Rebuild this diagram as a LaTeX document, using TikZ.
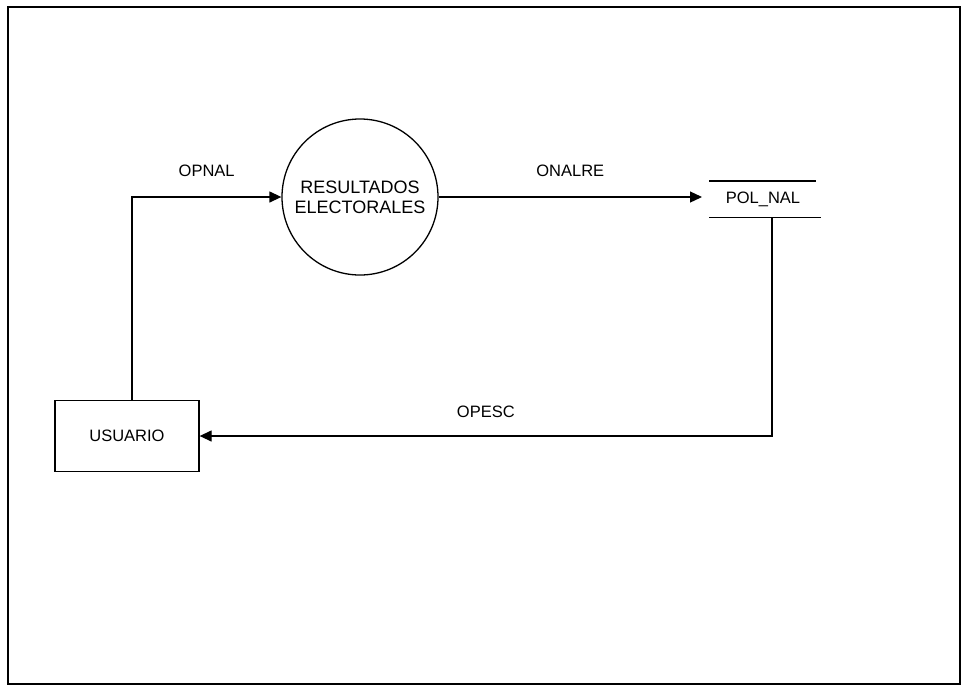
\documentclass[tikz,border=0pt]{standalone}
\usepackage{fontspec}
\setmainfont{Liberation Sans}
\usetikzlibrary{arrows.meta,positioning}

\begin{document}
\begin{tikzpicture}[x=1pt,y=-1pt,line width=1.3pt,
		font=\fontsize{16.5}{19}\selectfont,
		flow/.style={-{Triangle[length=12pt,width=11pt]}},
		proceso/.style={circle,draw,minimum size=156pt,inner sep=0pt,align=center,
			font=\fontsize{18}{20}\selectfont},
		entidad/.style={rectangle,draw,minimum width=144pt,minimum height=71pt},
		almacen/.style={rectangle,minimum width=108pt,minimum height=35pt,outer xsep=7pt}]
		\useasboundingbox (0,0) rectangle (964,686);
		\draw[line width=1.8pt] (8,7) rectangle (960,684);
		\node[proceso] (resultados) at (360,197) {RESULTADOS\\ELECTORALES};
		\node[entidad] (usuario) at (127,436) {USUARIO};
		\node[almacen] (polnal) at (763,199) {POL\_NAL};
		\draw (polnal.north west) ++(7,0) coordinate (st1) -- ++(107,0);
		\draw (polnal.south west) ++(7,0) coordinate (st2) -- ++(112,0);
		\draw[flow] ([xshift=5pt]usuario.north) |- (resultados.west) node[pos=0.75, above=16pt]{OPNAL};
		\draw[flow] (resultados.east) -- (resultados.east -| polnal.west) node[midway, above=16pt]{ONALRE};
		\draw[flow] ([xshift=9pt]polnal.south) |- (usuario.east) node[pos=0.75, above=14pt]{OPESC};
	\end{tikzpicture}
\end{document}
